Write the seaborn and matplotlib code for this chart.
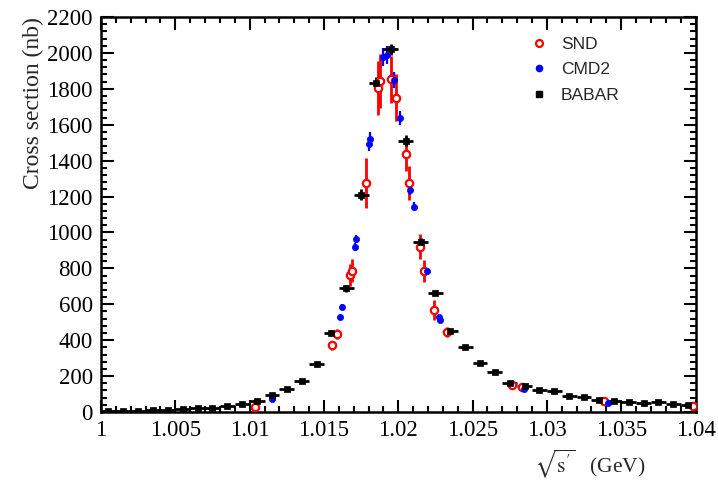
import numpy as np
import pandas as pd
import matplotlib
matplotlib.use("Agg")
import matplotlib.pyplot as plt
from matplotlib.ticker import MultipleLocator, FormatStrFormatter
from matplotlib.lines import Line2D
import seaborn as sns

# BABAR: bin centres (GeV), cross sections (nb), errors
babar_x = [1.0005, 1.0015, 1.0025, 1.0035, 1.0045, 1.0055, 1.0065, 1.0075, 1.0085, 1.0095,
           1.0105, 1.0115, 1.0125, 1.0135, 1.0145, 1.0155, 1.0165, 1.0175, 1.0185, 1.0195,
           1.0205, 1.0215, 1.0225, 1.0235, 1.0245, 1.0255, 1.0265, 1.0275, 1.0285, 1.0295,
           1.0305, 1.0315, 1.0325, 1.0335, 1.0345, 1.0355, 1.0365, 1.0375, 1.0385, 1.0395]
babar_y = [5, 6, 7, 9, 12, 17, 20, 24, 32, 44,
           60, 97, 128, 175, 270, 440, 690, 1210, 1830, 2020,
           1510, 945, 665, 450, 360, 273, 223, 162, 145, 123,
           117, 89, 84, 68, 62, 56, 52, 55, 46, 38]
babar_yerr = [2, 2, 2, 2, 3, 3, 3, 3, 4, 4,
              5, 6, 7, 8, 10, 14, 20, 30, 35, 30,
              30, 22, 16, 12, 10, 8, 7, 6, 6, 5,
              5, 4, 4, 4, 4, 3, 3, 3, 3, 3]
babar_xerr = 0.0005

# CMD2
cmd2_x = [1.01149, 1.01608, 1.01622, 1.01710, 1.01716, 1.01800, 1.01810, 1.01897, 1.01926,
          1.01973, 1.02014, 1.02080, 1.02108, 1.02190, 1.02277, 1.02284, 1.02845, 1.03412]
cmd2_y = [72, 529, 585, 919, 964, 1493, 1520, 1978, 1989,
          1850, 1638, 1237, 1142, 786, 530, 515, 128, 50]
cmd2_yerr = [6, 12, 14, 20, 22, 40, 40, 50, 50,
             45, 40, 30, 25, 18, 12, 12, 6, 4]

# SND
snd_x = [1.01034, 1.01551, 1.01588, 1.01676, 1.01688, 1.01784, 1.01865, 1.01878, 1.01953,
         1.01986, 1.02054, 1.02074, 1.02149, 1.02176, 1.02243, 1.02331, 1.02764, 1.02830,
         1.03386, 1.03980]
snd_y = [30, 373, 434, 763, 787, 1276, 1805, 1844, 1852,
         1750, 1435, 1275, 920, 786, 568, 445, 150, 139,
         61, 35]
snd_yerr = [12, 25, 30, 60, 65, 140, 150, 150, 130,
            130, 95, 95, 70, 60, 55, 30, 12, 12,
            8, 8]

sns.set_style("ticks")
plt.rcParams["font.family"] = ["Liberation Serif", "DejaVu Serif"]
plt.rcParams["mathtext.fontset"] = "stix"

fig = plt.figure(figsize=(7.18, 4.80), dpi=100)
ax = fig.add_axes([0.1407, 0.1417, 0.8280, 0.8229])

red, blue, black = "#ff0000", "#0000ff", "#000000"

# error bars
ax.errorbar(snd_x, snd_y, yerr=snd_yerr, fmt="none", ecolor=red, elinewidth=2.0,
            capsize=0, zorder=2)
ax.errorbar(cmd2_x, cmd2_y, yerr=cmd2_yerr, fmt="none", ecolor=blue, elinewidth=1.6,
            capsize=0, zorder=3)
ax.errorbar(babar_x, babar_y, xerr=babar_xerr, yerr=babar_yerr, fmt="none", ecolor=black,
            elinewidth=2.0, capsize=0, zorder=4)

# markers
df_snd = pd.DataFrame({"x": snd_x, "y": snd_y})
df_cmd = pd.DataFrame({"x": cmd2_x, "y": cmd2_y})
df_bab = pd.DataFrame({"x": babar_x, "y": babar_y})
sns.scatterplot(data=df_snd, x="x", y="y", ax=ax, marker="o", s=28,
                facecolor="white", edgecolor=red, linewidth=1.6, zorder=5)
sns.scatterplot(data=df_cmd, x="x", y="y", ax=ax, marker="o", s=20,
                color=blue, edgecolor=blue, linewidth=0.5, zorder=6)
sns.scatterplot(data=df_bab, x="x", y="y", ax=ax, marker="s", s=18,
                color=black, edgecolor=black, linewidth=0.5, zorder=7)

ax.set_xlim(1.0, 1.04)
ax.set_ylim(0, 2200)

ax.xaxis.set_major_locator(MultipleLocator(0.005))
ax.xaxis.set_minor_locator(MultipleLocator(0.001))
ax.xaxis.set_major_formatter(FormatStrFormatter("%g"))
ax.yaxis.set_major_locator(MultipleLocator(200))
ax.yaxis.set_minor_locator(MultipleLocator(40))

ax.tick_params(which="both", direction="in", top=True, right=True, width=1.5,
               labelsize=16.5, colors="black")
ax.tick_params(which="major", length=9)
ax.tick_params(which="minor", length=4.5)
ax.tick_params(axis="x", pad=6)
ax.tick_params(axis="y", pad=6)
for sp in ax.spines.values():
    sp.set_linewidth(1.8)
    sp.set_color("black")

ax.set_xlabel("")
ax.set_ylabel("Cross section (nb)", fontsize=17, loc="top", labelpad=2)
fig.text(590 / 718, 1 - 464 / 480, r"$\sqrt{\mathrm{s}^{\prime}}$   (GeV)", fontsize=15.5,
         ha="center", va="center")

handles = [
    Line2D([], [], linestyle="none", marker="o", markersize=5, markerfacecolor="white",
           markeredgecolor=red, markeredgewidth=1.6),
    Line2D([], [], linestyle="none", marker="o", markersize=4.5, color=blue),
    Line2D([], [], linestyle="none", marker="s", markersize=4.5, color=black),
]
leg = ax.legend(handles, ["SND", "CMD2", "BABAR"], loc="upper left",
                bbox_to_anchor=(0.695, 0.99), frameon=False, handlelength=1.0,
                handletextpad=0.8, labelspacing=0.6,
                prop={"family": "Liberation Sans", "size": 12.5})

fig.savefig("out.png", dpi=100, facecolor="white")
